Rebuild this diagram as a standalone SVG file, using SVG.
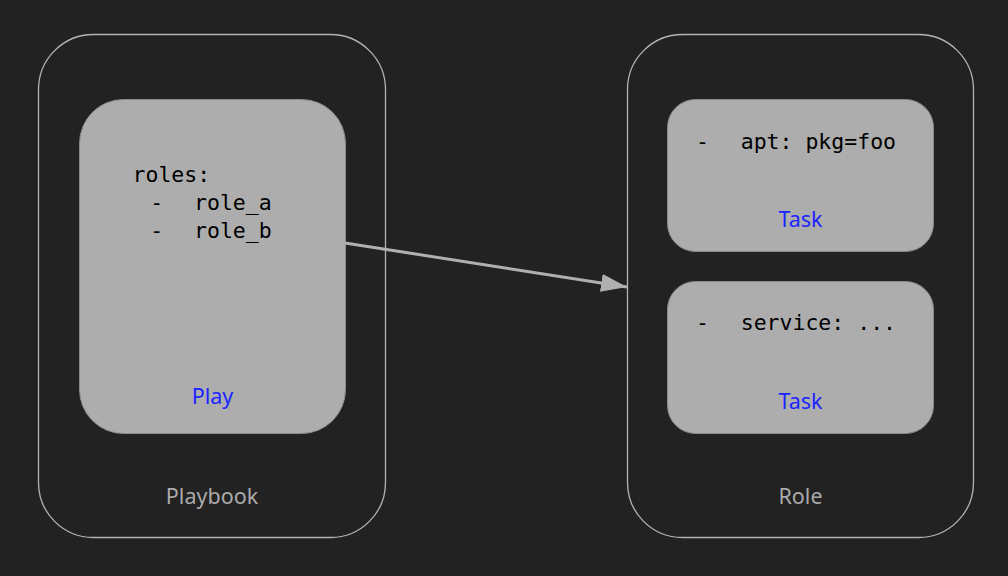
<svg xmlns="http://www.w3.org/2000/svg" width="1008" height="576" viewBox="0 0 1008 576">
<style>
.outer{fill:#222222;stroke:#b4b4b4;stroke-width:1.3}
.inner{fill:#adadad;stroke:#8a8a8a;stroke-width:1}
.code{font-family:"DejaVu Sans Mono",monospace;font-size:21.5px;fill:#000000;white-space:pre}
.lbl{font-family:"Noto Sans","Open Sans",sans-serif;font-size:21.5px;text-anchor:middle}
.blue{fill:#1a24ff}
.gray{fill:#aaaaaa}
</style>
<defs>
<marker id="ah" markerWidth="26" markerHeight="18" refX="26" refY="9" orient="auto" markerUnits="userSpaceOnUse">
<path d="M0,0 L26,9 L0,18 Z" fill="#b0b0b0"/>
</marker>
</defs>
<rect width="1008" height="576" fill="#222222"/>
<g id="playbook">
<rect class="outer" x="38.5" y="34.5" width="347" height="503" rx="55"/>
<text class="lbl gray" x="212" y="503.5">Playbook</text>
</g>
<g id="play">
<rect class="inner" x="79.5" y="99.5" width="266" height="334" rx="44"/>
<text class="code" x="132.5" y="182">roles:</text>
<text class="code" y="210"><tspan x="150.2">-</tspan><tspan x="194">role_a</tspan></text>
<text class="code" y="238"><tspan x="150.2">-</tspan><tspan x="194">role_b</tspan></text>
<text class="lbl blue" x="212.5" y="404">Play</text>
</g>
<g id="role">
<rect class="outer" x="627.5" y="34.5" width="346" height="503" rx="55"/>
<text class="lbl gray" x="800.5" y="503.5">Role</text>
</g>
<g id="task1">
<rect class="inner" x="667.5" y="99.5" width="266" height="152" rx="28"/>
<text class="code" y="149"><tspan x="696">-</tspan><tspan x="740.7">apt: pkg=foo</tspan></text>
<text class="lbl blue" x="800.5" y="227">Task</text>
</g>
<g id="task2">
<rect class="inner" x="667.5" y="281.5" width="266" height="152" rx="28"/>
<text class="code" y="330"><tspan x="696">-</tspan><tspan x="740.7">service: ...</tspan></text>
<text class="lbl blue" x="800.5" y="409">Task</text>
</g>
<g id="connectors">
<line x1="345" y1="243" x2="627" y2="287" stroke="#b0b0b0" stroke-width="3" marker-end="url(#ah)"/>
</g>
</svg>
